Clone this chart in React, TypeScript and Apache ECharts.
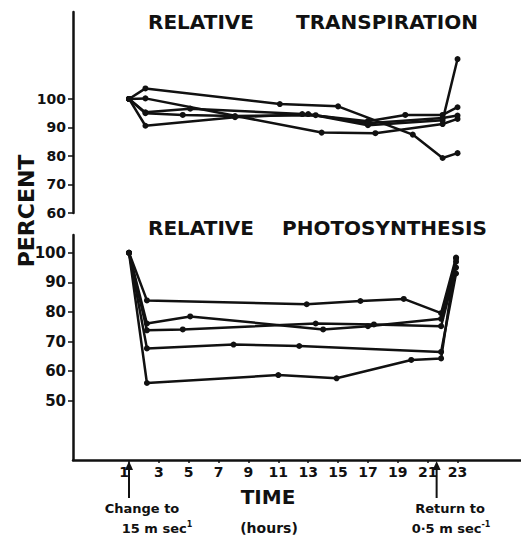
import React, { useEffect, useRef } from "react";
import * as echarts from "echarts";

// X axis (hours)
const HOUR_TICKS = [1, 3, 5, 7, 9, 11, 13, 15, 17, 19, 21, 23];
const TOP_TICKS = [60, 70, 80, 90, 100];
const BOTTOM_TICKS = [50, 60, 70, 80, 90, 100];

// Relative transpiration (hour, percent)
const transA = [[1, 100], [2.1, 103.7], [11.1, 98.2], [15, 97.4], [20, 87.5], [22, 79.3], [23, 81]];
const transB = [[1, 100], [2.1, 100.2], [13.9, 88.2], [17.5, 88.0], [22, 91.2], [23, 93.0]];
const transC = [[1, 100], [2.1, 90.6], [8.1, 93.6], [13, 94.7], [17, 90.8], [22, 92.5], [23, 114]];
const transD = [[1, 100], [2.1, 95.3], [5.1, 96.6], [12.6, 94.7], [17, 92.2], [19.5, 94.4], [22, 94.4], [23, 97.1]];
const transE = [[1, 100], [2.1, 95.0], [4.6, 94.4], [8.1, 94.0], [13.5, 94.3], [17, 91.5], [22, 93.3], [23, 94.2]];

// Relative photosynthesis (hour, percent)
const photoA = [[1, 100], [2.2, 83.9], [12.9, 82.6], [16.5, 83.7], [19.4, 84.4], [21.9, 79.6], [22.9, 98.4]];
const photoB = [[1, 100], [2.2, 76.1], [5.1, 78.5], [14.0, 74.1], [17, 75.2], [21.9, 77.7], [22.9, 97]];
const photoC = [[1, 100], [2.2, 73.8], [4.6, 74.1], [13.5, 76.1], [17.4, 75.8], [21.9, 75.2], [22.9, 95]];
const photoD = [[1, 100], [2.2, 67.7], [8.0, 69.0], [12.4, 68.5], [21.9, 66.5], [22.9, 93]];
const photoE = [[1, 100], [2.2, 56.0], [11, 58.7], [14.9, 57.6], [19.9, 63.8], [21.9, 64.3], [22.9, 98]];

const CHANGE_HOUR = 1;
const RETURN_HOUR = 21.6;

const INK = "#111";
const FONT = "DejaVu Sans";

function lineSeries(data: number[][], idx: number) {
  return {
    type: "line",
    xAxisIndex: idx,
    yAxisIndex: idx,
    data,
    symbol: "circle",
    symbolSize: 6,
    showSymbol: true,
    lineStyle: { color: INK, width: 2.5 },
    itemStyle: { color: INK },
    emphasis: { disabled: true },
    silent: true,
  };
}

export default function App() {
  const ref = useRef<HTMLDivElement>(null);
  useEffect(() => {
    if (!ref.current) return;
    const chart = echarts.init(ref.current, undefined, { renderer: "svg" });
    const xAxisBase = {
      type: "value",
      min: -2.75,
      max: 27.25,
      splitLine: { show: false },
    };
    chart.setOption({
      animation: false,
      backgroundColor: "#fff",
      grid: [
        { left: 73, right: 0, top: 12, bottom: 327 },
        { left: 73, right: 0, top: 235, bottom: 80 },
      ],
      xAxis: [
        { ...xAxisBase, gridIndex: 0, show: false },
        {
          ...xAxisBase,
          gridIndex: 1,
          axisLine: { show: true, onZero: false, lineStyle: { color: INK, width: 2.5 } },
          axisTick: { show: true, customValues: HOUR_TICKS, length: 3, lineStyle: { color: INK, width: 1.5 } },
          axisLabel: {
            customValues: HOUR_TICKS,
            margin: 5,
            color: INK,
            fontFamily: FONT,
            fontSize: 14,
            fontWeight: "bold",
            formatter: (v: number) => (v === 1 ? "1  " : String(v)),
          },
        },
      ],
      yAxis: [
        {
          type: "value",
          gridIndex: 0,
          min: 60,
          max: 130.5,
          splitLine: { show: false },
          axisLine: { show: true, onZero: false, lineStyle: { color: INK, width: 2.5 } },
          axisTick: { show: true, customValues: TOP_TICKS, length: 5, lineStyle: { color: INK, width: 1.5 } },
          axisLabel: { customValues: TOP_TICKS, margin: 7, color: INK, fontFamily: FONT, fontSize: 14, fontWeight: "bold" },
        },
        {
          type: "value",
          gridIndex: 1,
          min: 30,
          max: 106,
          splitLine: { show: false },
          axisLine: { show: true, onZero: false, lineStyle: { color: INK, width: 2.5 } },
          axisTick: { show: true, customValues: BOTTOM_TICKS, length: 5, lineStyle: { color: INK, width: 1.5 } },
          axisLabel: { customValues: BOTTOM_TICKS, margin: 7, color: INK, fontFamily: FONT, fontSize: 15, fontWeight: "bold" },
        },
      ],
      series: [
        lineSeries(transA, 0),
        lineSeries(transB, 0),
        lineSeries(transC, 0),
        lineSeries(transD, 0),
        lineSeries(transE, 0),
        lineSeries(photoA, 1),
        lineSeries(photoB, 1),
        lineSeries(photoC, 1),
        lineSeries(photoD, 1),
        lineSeries(photoE, 1),
      ],
    });

    const xChange = chart.convertToPixel({ xAxisIndex: 1 }, CHANGE_HOUR) as number;
    const xReturn = chart.convertToPixel({ xAxisIndex: 1 }, RETURN_HOUR) as number;
    const axisY = chart.convertToPixel({ yAxisIndex: 1 }, 30) as number;

    const arrow = (x: number) => [
      { type: "line", shape: { x1: x, y1: axisY + 6, x2: x, y2: axisY + 38 }, style: { stroke: INK, lineWidth: 2 } },
      { type: "polygon", shape: { points: [[x, axisY + 1], [x - 4, axisY + 10], [x + 4, axisY + 10]] }, style: { fill: INK } },
    ];
    const txt = (text: string, x: number, y: number, size: number, align = "left", weight = "bold") => ({
      type: "text",
      x,
      y,
      style: { text, fill: INK, font: `${weight} ${size}px "${FONT}"`, textAlign: align, textVerticalAlign: "middle" },
    });

    chart.setOption({
      graphic: [
        txt("RELATIVE", 148, 22, 20),
        txt("TRANSPIRATION", 296, 22, 20),
        txt("RELATIVE", 148, 228, 20),
        txt("PHOTOSYNTHESIS", 282, 228, 20),
        {
          type: "text",
          x: 26,
          y: 211,
          rotation: Math.PI / 2,
          style: { text: "PERCENT", fill: INK, font: `bold 22px "${FONT}"`, textAlign: "center", textVerticalAlign: "middle" },
        },
        txt("TIME", 268, 497, 20, "center"),
        txt("(hours)", 269, 528, 14, "center"),
        txt("Change to", 142, 508, 13, "center"),
        {
          type: "text",
          x: 157,
          y: 528,
          style: {
            text: "15 m sec{s|1}",
            fill: INK,
            font: `bold 13px "${FONT}"`,
            textAlign: "center",
            textVerticalAlign: "middle",
            rich: { s: { fontSize: 8, fontWeight: "bold", fontFamily: FONT, verticalAlign: "top", padding: [0, 0, 8, 0] } },
          },
        },
        txt("Return to", 450, 508, 13, "center"),
        {
          type: "text",
          x: 451,
          y: 528,
          style: {
            text: "0·5 m sec{s|-1}",
            fill: INK,
            font: `bold 13px "${FONT}"`,
            textAlign: "center",
            textVerticalAlign: "middle",
            rich: { s: { fontSize: 8, fontWeight: "bold", fontFamily: FONT, verticalAlign: "top", padding: [0, 0, 8, 0] } },
          },
        },
        ...arrow(xChange),
        ...arrow(xReturn),
      ],
    });

    return () => chart.dispose();
  }, []);
  return <div ref={ref} style={{ width: 521, height: 540, position: "absolute", left: 0, top: 0 }} />;
}
